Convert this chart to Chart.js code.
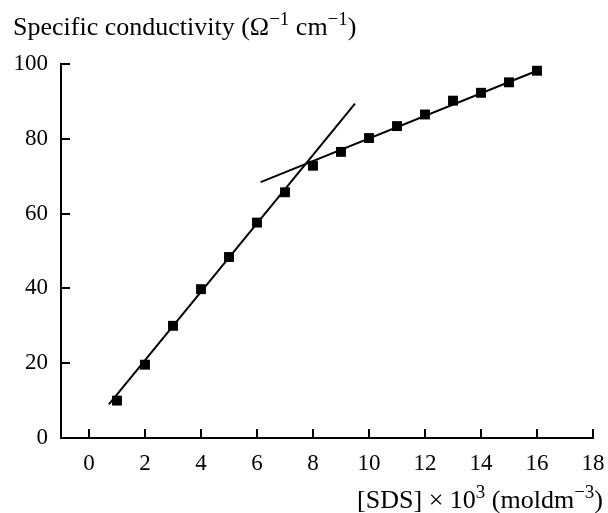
<!DOCTYPE html>
<html>
<head>
<meta charset="utf-8">
<script src="https://cdn.jsdelivr.net/npm/chart.js@4"></script>
<style>
  html, body { margin: 0; padding: 0; background: #fff; }
  #wrap { width: 608px; height: 513px; }
</style>
</head>
<body>
<div id="wrap"><canvas id="condChart" width="608" height="513"></canvas></div>
<script>
// [SDS] x 10^3 values and measured conductivity
const sdsConc = [1, 2, 3, 4, 5, 6, 7, 8, 9, 10, 11, 12, 13, 14, 15, 16];
const conductivity = [10, 19.6, 30, 39.8, 48.4, 57.6, 65.7, 72.8, 76.5, 80.2, 83.4, 86.5, 90.2, 92.3, 95.1, 98.2];

// the two straight lines drawn through the data (below and above the CMC)
const lowFitX = [0.71, 9.5];
const lowFitY = [9, 89.4];
const highFitX = [6.13, 16];
const highFitY = [68.4, 98.2];

// axis ticks
const xTicks = [0, 2, 4, 6, 8, 10, 12, 14, 16, 18];
const yTicks = [0, 20, 40, 60, 80, 100];

// axis titles, split so the exponents can be raised
const yTitle = [['Specific conductivity (Ω', false], ['−1', true], [' cm', false], ['−1', true], [')', false]];
const xTitle = [['[SDS] × 10', false], ['3', true], [' (moldm', false], ['−3', true], [')', false]];

const serif = 'Liberation Serif';
const toPoints = (xs, ys) => xs.map((x, i) => ({ x: x, y: ys[i] }));

// draws text with superscripts, starting at x (or ending at x when alignRight)
function drawRich(ctx, parts, x, baseline, size, alignRight) {
  const supSize = Math.round(size * 0.72);
  const widths = parts.map(([t, sup]) => {
    ctx.font = (sup ? supSize : size) + 'px "' + serif + '"';
    return ctx.measureText(t).width;
  });
  let cx = alignRight ? x - widths.reduce((a, b) => a + b, 0) : x;
  parts.forEach(([t, sup], i) => {
    ctx.font = (sup ? supSize : size) + 'px "' + serif + '"';
    ctx.fillText(t, cx, sup ? baseline - size * 0.38 : baseline);
    cx += widths[i];
  });
}

const axisTitles = {
  id: 'axisTitles',
  afterDraw(chart) {
    const ctx = chart.ctx;
    ctx.save();
    ctx.fillStyle = '#000';
    ctx.textBaseline = 'alphabetic';
    ctx.textAlign = 'left';
    drawRich(ctx, yTitle, 13, 35, 26, false);
    drawRich(ctx, xTitle, 603, 508, 26, true);
    ctx.restore();
  }
};

// little inward tick marks, like the printed figure
const inwardTicks = {
  id: 'inwardTicks',
  afterDatasetsDraw(chart) {
    const { ctx, scales: { x, y } } = chart;
    ctx.save();
    ctx.strokeStyle = '#000';
    ctx.lineWidth = 2;
    ctx.beginPath();
    xTicks.forEach(v => {
      const px = Math.round(x.getPixelForValue(v));
      ctx.moveTo(px, y.bottom);
      ctx.lineTo(px, y.bottom - 9);
    });
    yTicks.filter(v => v > 0).forEach(v => {
      const py = Math.round(y.getPixelForValue(v));
      ctx.moveTo(x.left, py);
      ctx.lineTo(x.left + 9, py);
    });
    ctx.stroke();
    ctx.restore();
  }
};

const ctx = document.getElementById('condChart').getContext('2d');
new Chart(ctx, {
  type: 'scatter',
  data: {
    datasets: [
      {
        label: 'low',
        data: toPoints(lowFitX, lowFitY),
        showLine: true,
        borderColor: '#000',
        borderWidth: 2,
        pointRadius: 0
      },
      {
        label: 'high',
        data: toPoints(highFitX, highFitY),
        showLine: true,
        borderColor: '#000',
        borderWidth: 2,
        pointRadius: 0
      },
      {
        label: 'SDS',
        data: toPoints(sdsConc, conductivity),
        showLine: false,
        pointStyle: 'rect',
        pointRadius: 7,
        backgroundColor: '#000',
        borderColor: '#000',
        borderWidth: 0
      }
    ]
  },
  options: {
    responsive: false,
    animation: false,
    layout: { padding: { left: 13, right: 15, top: 64, bottom: 24 } },
    plugins: {
      legend: { display: false },
      tooltip: { enabled: false }
    },
    scales: {
      x: {
        type: 'linear',
        min: -1,
        max: 18,
        afterBuildTicks: s => { s.ticks = xTicks.map(v => ({ value: v })); },
        afterFit: s => { s.paddingLeft = 0; s.paddingRight = 0; },
        ticks: {
          color: '#000',
          font: { family: serif, size: 23, lineHeight: 1 },
          padding: 14,
          maxRotation: 0
        },
        grid: { display: true, drawOnChartArea: false, drawTicks: false },
        border: { color: '#000', width: 2 }
      },
      y: {
        type: 'linear',
        min: 0,
        max: 100,
        afterBuildTicks: s => { s.ticks = yTicks.map(v => ({ value: v })); },
        afterFit: s => { s.width = 48; s.paddingTop = 0; s.paddingBottom = 0; },
        ticks: {
          color: '#000',
          font: { family: serif, size: 23 },
          padding: 13
        },
        grid: { display: true, drawOnChartArea: false, drawTicks: false },
        border: { color: '#000', width: 2 }
      }
    }
  },
  plugins: [inwardTicks, axisTitles]
});
</script>
</body>
</html>
